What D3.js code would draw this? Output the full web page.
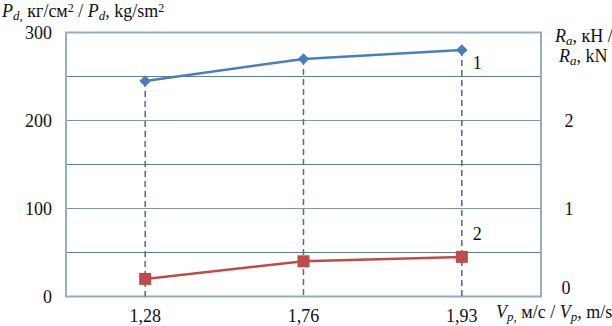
<!DOCTYPE html>
<html>
<head>
<meta charset="utf-8">
<script src="https://cdn.jsdelivr.net/npm/d3@7"></script>
<style>
  body { margin: 0; background: #fff; }
</style>
</head>
<body>
<div id="chart"></div>
<script>
// categories (speed, m/s) and the two series
var categories = ["1,28", "1,76", "1,93"];
var pressure = [245, 270, 280];      // series 1, left axis, kg/cm2
var force = [0.2, 0.4, 0.45];        // series 2, right axis, kN
var leftTicks = [0, 100, 200, 300];
var rightTicks = [0, 1, 2];

var width = 612, height = 326;
var plotLeft = 66, plotRight = 541, plotTop = 32.5, plotBottom = 296.5;
var fontSize = 18;

var svg = d3.select("#chart").append("svg")
  .attr("width", width)
  .attr("height", height)
  .attr("font-family", "'Liberation Serif', 'Times New Roman', Times, serif")
  .attr("fill", "#111");

var x = d3.scalePoint()
  .domain(categories)
  .range([plotLeft, plotRight])
  .padding(0.5);

var yLeft = d3.scaleLinear().domain([0, 300]).range([plotBottom, plotTop]);
var yRight = d3.scaleLinear().domain([0, 3]).range([plotBottom, plotTop]);

// horizontal grid every 50
svg.append("g").selectAll("line")
  .data(d3.range(50, 300, 50))
  .enter().append("line")
  .attr("x1", plotLeft).attr("x2", plotRight)
  .attr("y1", function(d) { return yLeft(d); })
  .attr("y2", function(d) { return yLeft(d); })
  .attr("stroke", function(d) { return d % 100 == 0 ? "#7f9a9e" : "#5e8288"; })
  .attr("stroke-width", 1.2);

// plot frame
svg.append("rect")
  .attr("x", plotLeft).attr("y", plotTop)
  .attr("width", plotRight - plotLeft).attr("height", plotBottom - plotTop)
  .attr("fill", "none")
  .attr("stroke", "#93adc4")
  .attr("stroke-width", 2);

// dashed drop lines
svg.append("g").selectAll("line")
  .data(categories)
  .enter().append("line")
  .attr("x1", function(d) { return x(d); })
  .attr("x2", function(d) { return x(d); })
  .attr("y1", function(d, i) { return yLeft(pressure[i]); })
  .attr("y2", plotBottom)
  .attr("stroke", "#4d6b8c")
  .attr("stroke-width", 1.5)
  .attr("stroke-dasharray", "6,4");

// series 1
var line1 = d3.line()
  .x(function(d, i) { return x(categories[i]); })
  .y(function(d) { return yLeft(d); });

svg.append("path")
  .datum(pressure)
  .attr("d", line1)
  .attr("fill", "none")
  .attr("stroke", "#4a7ebb")
  .attr("stroke-width", 2.5);

svg.append("g").selectAll("path")
  .data(pressure)
  .enter().append("path")
  .attr("d", d3.symbol().type(d3.symbolDiamond2).size(85))
  .attr("transform", function(d, i) {
    return "translate(" + x(categories[i]) + "," + yLeft(d) + ")";
  })
  .attr("fill", "#4a7ebb");

// series 2
var line2 = d3.line()
  .x(function(d, i) { return x(categories[i]); })
  .y(function(d) { return yRight(d); });

svg.append("path")
  .datum(force)
  .attr("d", line2)
  .attr("fill", "none")
  .attr("stroke", "#be4b48")
  .attr("stroke-width", 2.5);

svg.append("g").selectAll("rect")
  .data(force)
  .enter().append("rect")
  .attr("x", function(d, i) { return x(categories[i]) - 6; })
  .attr("y", function(d) { return yRight(d) - 6; })
  .attr("width", 12).attr("height", 12)
  .attr("fill", "#be4b48");

// series labels
svg.append("text")
  .attr("x", x(categories[2]) + 11).attr("y", yLeft(pressure[2]) + 19)
  .attr("font-size", fontSize).text("1");
svg.append("text")
  .attr("x", x(categories[2]) + 11).attr("y", yRight(force[2]) - 17)
  .attr("font-size", fontSize).text("2");

// left axis labels
svg.append("g").selectAll("text")
  .data(leftTicks)
  .enter().append("text")
  .attr("x", 52)
  .attr("y", function(d) { return yLeft(d); })
  .attr("dy", "0.35em")
  .attr("text-anchor", "end")
  .attr("font-size", fontSize)
  .text(function(d) { return d; });

// right axis labels
svg.append("g").selectAll("text")
  .data(rightTicks)
  .enter().append("text")
  .attr("x", function(d) { return d == 0 ? 566 : 569; })
  .attr("y", function(d) { return d == 0 ? yRight(d) - 9 : yRight(d); })
  .attr("dy", "0.35em")
  .attr("text-anchor", "middle")
  .attr("font-size", fontSize)
  .text(function(d) { return d; });

// x axis labels
svg.append("g").selectAll("text")
  .data(categories)
  .enter().append("text")
  .attr("x", function(d) { return x(d); })
  .attr("y", 322)
  .attr("text-anchor", "middle")
  .attr("font-size", fontSize)
  .text(function(d) { return d; });

// axis titles with italic symbols, subscripts and superscripts
function title(xPos, yPos, parts) {
  var el = svg.append("text").attr("x", xPos).attr("y", yPos).attr("font-size", fontSize);
  parts.forEach(function(p) {
    var s = el.append("tspan").text(p[0]);
    if (p[1] == "i") s.attr("font-style", "italic");
    if (p[1] == "sub") s.attr("font-style", "italic").attr("font-size", 13).attr("dy", 3);
    if (p[1] == "sup") s.attr("font-size", 12).attr("dy", -5);
    if (p[2]) s.attr("dy", p[2]);
  });
}

title(2, 17, [
  ["P", "i"], ["d,", "sub"], [" кг/см", "n", -3], ["2", "sup"], [" / ", "n", 5],
  ["P", "i"], ["d", "sub"], [", kg/sm", "n", -3], ["2", "sup"]
]);

title(555, 42, [["R", "i"], ["a", "sub"], [", кН /", "n", -3]]);
title(559, 62, [["R", "i"], ["a", "sub"], [", kN", "n", -3]]);

title(496, 318, [
  ["V", "i"], ["p,", "sub"], [" м/с / ", "n", -3], ["V", "i"], ["p", "sub"], [", m/s", "n", -3]
]);
</script>
</body>
</html>
